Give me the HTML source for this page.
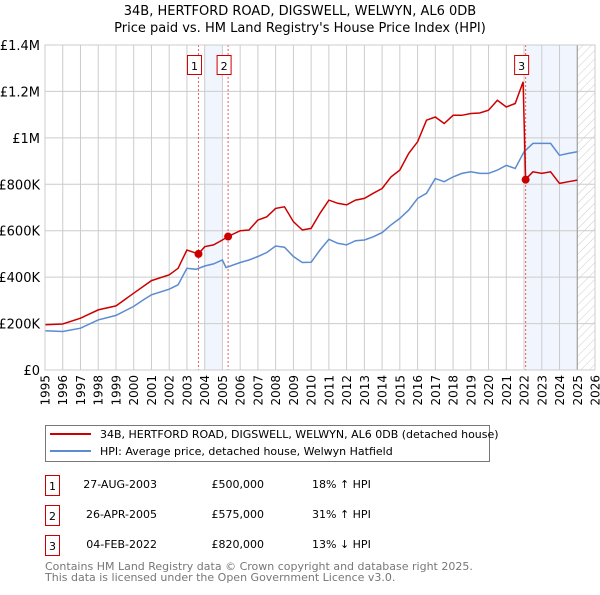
<!DOCTYPE html>
<html><head><meta charset="utf-8"><style>
body{margin:0;background:#fff;}
svg text{font-family:"DejaVu Sans","Liberation Sans",sans-serif;}
</style></head><body>
<svg id="c" width="600" height="590" xmlns="http://www.w3.org/2000/svg">
<defs><pattern id="hatch" width="6" height="6" patternUnits="userSpaceOnUse" patternTransform="rotate(45)"><line x1="0" y1="0" x2="0" y2="6" stroke="#ccc" stroke-width="1"/></pattern></defs>
<text x="300" y="15" text-anchor="middle" font-size="13">34B, HERTFORD ROAD, DIGSWELL, WELWYN, AL6 0DB</text>
<text x="300" y="32" text-anchor="middle" font-size="13">Price paid vs. HM Land Registry's House Price Index (HPI)</text>
<g id="plot"></g>
<g>
<rect x="45.5" y="425.5" width="444" height="36" fill="#fff" stroke="#777"/>
<line x1="50" y1="434" x2="91" y2="434" stroke="#cc0000" stroke-width="2"/>
<text x="100" y="438" font-size="11">34B, HERTFORD ROAD, DIGSWELL, WELWYN, AL6 0DB (detached house)</text>
<line x1="50" y1="451" x2="91" y2="451" stroke="#5b8bd0" stroke-width="2"/>
<text x="100" y="455" font-size="11">HPI: Average price, detached house, Welwyn Hatfield</text>
</g>
<g font-size="11">
<rect x="45.5" y="475.5" width="14" height="20" fill="none" stroke="#cc0000"/><text x="52.5" y="490" text-anchor="middle">1</text>
<text x="157" y="488" text-anchor="end">27-AUG-2003</text><text x="264" y="488" text-anchor="end">£500,000</text><text x="312" y="488">18% ↑ HPI</text>
<rect x="45.5" y="505.5" width="14" height="20" fill="none" stroke="#cc0000"/><text x="52.5" y="520" text-anchor="middle">2</text>
<text x="157" y="518" text-anchor="end">26-APR-2005</text><text x="264" y="518" text-anchor="end">£575,000</text><text x="312" y="518">31% ↑ HPI</text>
<rect x="45.5" y="535.5" width="14" height="20" fill="none" stroke="#cc0000"/><text x="52.5" y="550" text-anchor="middle">3</text>
<text x="157" y="548" text-anchor="end">04-FEB-2022</text><text x="264" y="548" text-anchor="end">£820,000</text><text x="312" y="548">13% ↓ HPI</text>
</g>
<text x="45" y="570" font-size="11" fill="#777">Contains HM Land Registry data © Crown copyright and database right 2025.</text>
<text x="45" y="581" font-size="11" fill="#777">This data is licensed under the Open Government Licence v3.0.</text>
</svg>
<script>
const hpiYears=[1995,1996,1997,1998,1999,2000,2000.5,2001,2002,2002.5,2003,2003.5,2004,2004.5,2005,2005.2,2006,2006.5,2007,2007.5,2008,2008.5,2009,2009.5,2010,2010.5,2011,2011.5,2012,2012.5,2013,2013.5,2014,2014.5,2015,2015.5,2016,2016.5,2017,2017.5,2018,2018.5,2019,2019.5,2020,2020.5,2021,2021.5,2022,2022.5,2023,2023.5,2024,2024.5,2025];
const hpiValues=[169,166,180,216,235,274,300,324,348,367,438,434,448,457,474,441,463,474,489,506,534,529,489,463,464,517,563,546,539,557,560,574,592,625,653,689,739,761,825,811,832,847,854,847,847,861,882,868,940,976,976,976,925,933,940];
const redYears=[1995,1996,1997,1998,1999,2000,2001,2002,2002.5,2003,2003.65,2004,2004.5,2005,2005.32,2006,2006.5,2007,2007.5,2008,2008.5,2009,2009.5,2010,2010.5,2011,2011.5,2012,2012.5,2013,2013.5,2014,2014.5,2015,2015.5,2016,2016.5,2017,2017.5,2018,2018.5,2019,2019.5,2020,2020.5,2021,2021.5,2021.95,2022.09,2022.5,2023,2023.5,2024,2024.5,2025];
const redValues=[195,198,223,259,276,331,385,410,438,517,500,531,539,560,575,600,603,646,660,696,703,639,603,610,675,732,718,711,732,739,761,782,832,861,933,983,1076,1090,1062,1097,1097,1105,1107,1119,1162,1133,1148,1241,821,854,847,854,804,811,818];
const saleYears=[2003.65,2005.32,2022.09];
const saleValues=[500,575,820];
const saleLabels=["1","2","3"];
const yTicks=[0,200,400,600,800,1000,1200,1400];
const yTickLabels=["£0","£200K","£400K","£600K","£800K","£1M","£1.2M","£1.4M"];
const xTicks=[1995,1996,1997,1998,1999,2000,2001,2002,2003,2004,2005,2006,2007,2008,2009,2010,2011,2012,2013,2014,2015,2016,2017,2018,2019,2020,2021,2022,2023,2024,2025,2026];

const X0=45,X1=595,Y0=370,Y1=45;
const xs=y=>X0+(y-1995)/(2026-1995)*(X1-X0);
const ys=v=>Y0-v/1400*(Y0-Y1);
const NS="http://www.w3.org/2000/svg";
const g=document.getElementById('plot');
function mk(t,a){const e=document.createElementNS(NS,t);for(const k in a)e.setAttribute(k,a[k]);g.appendChild(e);return e;}

let e;
e=mk('rect',{x:xs(2004),y:Y1,width:xs(2005)-xs(2004),height:Y0-Y1,fill:'#eef3fc',opacity:0.8});


e=mk('rect',{x:xs(2022.09),y:Y1,width:xs(2025)-xs(2022.09),height:Y0-Y1,fill:'#eef3fc',opacity:0.8});


e=mk('rect',{x:xs(2025),y:Y1,width:X1-xs(2025),height:Y0-Y1,fill:'url(#hatch)'});


yTicks.forEach((v,i)=>{
  e=mk('line',{x1:X0,x2:X1,y1:ys(v),y2:ys(v),stroke:'#ccc','stroke-width':1});
  
  
  e=mk('text',{x:40,y:ys(v)+5,'text-anchor':'end','font-size':13});
  e.textContent=yTickLabels[i];
  
  
});
xTicks.forEach(y=>{
  e=mk('line',{x1:xs(y),x2:xs(y),y1:Y1,y2:Y0,stroke:'#ccc','stroke-width':1});
  
  
  const tx=xs(y)+4.5, ty=375;
  e=mk('text',{x:tx,y:ty,'text-anchor':'end','font-size':12,transform:`rotate(-90 ${tx} ${ty})`});
  e.textContent=y;
  
  
});
e=mk('line',{x1:xs(2025),x2:xs(2025),y1:Y1,y2:Y0,stroke:'#999','stroke-width':1});


saleYears.forEach((y,i)=>{
  e=mk('line',{x1:xs(y),x2:xs(y),y1:Y1,y2:Y0,stroke:'#e06060','stroke-width':1,'stroke-dasharray':'2,2'});
  
  
});
const pts=(xa,va)=>xa.map((y,i)=>xs(y).toFixed(1)+','+ys(va[i]).toFixed(1)).join(' ');
e=mk('polyline',{points:pts(hpiYears,hpiValues),fill:'none',stroke:'#5b8bd0','stroke-width':1.5});


e=mk('polyline',{points:pts(redYears,redValues),fill:'none',stroke:'#cc0000','stroke-width':1.5});


saleYears.forEach((y,i)=>{
  e=mk('circle',{cx:xs(y),cy:ys(saleValues[i]),r:4,fill:'#cc0000'});
  
  
  const bx=xs(y)-4;
  e=mk('rect',{x:bx-7,y:55.5,width:14,height:19,fill:'#fff',stroke:'#cc0000'});
  
  
  e=mk('text',{x:bx,y:70,'text-anchor':'middle','font-size':11});
  e.textContent=saleLabels[i];
  
  
});
e=mk('rect',{x:X0,y:Y1,width:X1-X0,height:Y0-Y1,fill:'none',stroke:'#ccc'});


</script>
</body></html>
